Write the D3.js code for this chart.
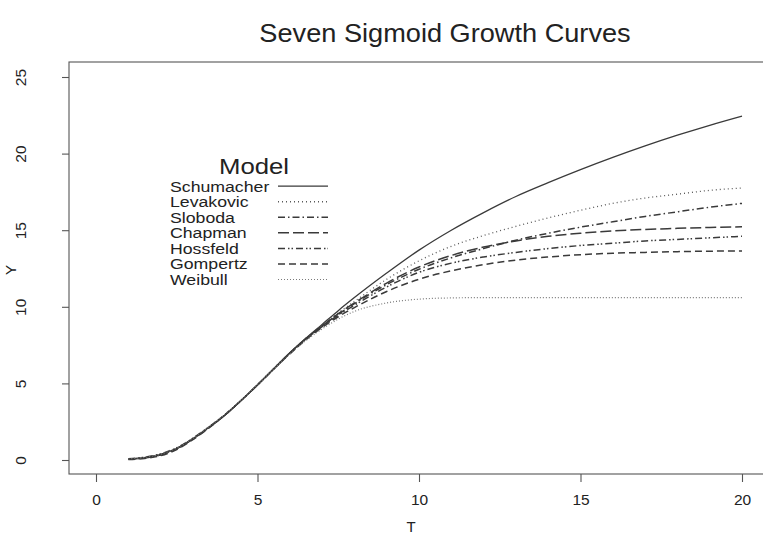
<!DOCTYPE html>
<html>
<head>
<meta charset="utf-8">
<script src="https://cdn.jsdelivr.net/npm/d3@7/dist/d3.min.js"></script>
<style>
  html, body { margin: 0; padding: 0; background: #fff; }
  svg { display: block; font-family: Arial, "Liberation Sans", Helvetica, sans-serif; }
</style>
</head>
<body>
<svg id="chart" width="763" height="540"></svg>
<script>
// Time points (T) at which each fitted growth model is evaluated
const T = [1, 1.5, 2, 2.5, 3, 3.5, 4, 4.5, 5, 5.5, 6, 6.5, 7, 7.5, 8, 9, 10, 11, 12, 13, 14, 15, 16, 17, 18, 19, 20];

// Predicted Y for each model
const schumacher = [0.06, 0.15, 0.36, 0.76, 1.4, 2.15, 2.95, 3.9, 4.9, 5.95, 7.0, 7.95, 8.85, 9.75, 10.6, 12.2, 13.7, 15.0, 16.15, 17.2, 18.1, 18.95, 19.75, 20.5, 21.2, 21.85, 22.45];
const levakovic  = [0.07, 0.16, 0.37, 0.77, 1.4, 2.15, 2.95, 3.9, 4.9, 5.95, 7.0, 7.95, 8.8, 9.6, 10.35, 11.8, 13.0, 13.95, 14.65, 15.25, 15.8, 16.3, 16.75, 17.1, 17.35, 17.6, 17.75];
const sloboda    = [0.06, 0.14, 0.34, 0.74, 1.38, 2.13, 2.95, 3.9, 4.9, 5.95, 6.98, 7.92, 8.75, 9.5, 10.2, 11.45, 12.45, 13.2, 13.8, 14.35, 14.8, 15.2, 15.55, 15.9, 16.2, 16.5, 16.75];
const chapman    = [0.05, 0.13, 0.33, 0.73, 1.37, 2.12, 2.95, 3.9, 4.9, 5.95, 6.98, 7.93, 8.75, 9.55, 10.25, 11.55, 12.6, 13.35, 13.9, 14.3, 14.6, 14.8, 14.95, 15.05, 15.12, 15.18, 15.22];
const hossfeld   = [0.08, 0.18, 0.4, 0.8, 1.42, 2.17, 2.97, 3.9, 4.9, 5.93, 6.95, 7.9, 8.7, 9.45, 10.1, 11.3, 12.25, 12.85, 13.25, 13.55, 13.8, 14.0, 14.15, 14.3, 14.4, 14.5, 14.6];
const gompertz   = [0.03, 0.1, 0.28, 0.68, 1.33, 2.1, 2.95, 3.9, 4.9, 5.93, 6.93, 7.85, 8.65, 9.35, 9.95, 11.0, 11.8, 12.35, 12.75, 13.05, 13.25, 13.4, 13.5, 13.55, 13.6, 13.63, 13.65];
const weibull    = [0.07, 0.17, 0.38, 0.78, 1.42, 2.18, 3.0, 3.93, 4.92, 5.93, 6.92, 7.8, 8.55, 9.2, 9.7, 10.25, 10.5, 10.58, 10.6, 10.6, 10.6, 10.6, 10.6, 10.6, 10.6, 10.6, 10.6];

const modelNames = ["Schumacher", "Levakovic", "Sloboda", "Chapman", "Hossfeld", "Gompertz", "Weibull"];
const modelValues = [schumacher, levakovic, sloboda, chapman, hossfeld, gompertz, weibull];

const xTicks = [0, 5, 10, 15, 20];
const yTicks = [0, 5, 10, 15, 20, 25];

// Line style per model (solid, dotted, dash-dot, long dash, dash-dot-dot, dash, fine dots)
const styles = [
  { dash: null,              width: 1.3, color: "#3a3a3a" },
  { dash: "1,3",             width: 1.3, color: "#5a5a5a" },
  { dash: "7,3,1.5,3",       width: 1.5, color: "#3a3a3a" },
  { dash: "11,4",            width: 1.5, color: "#3a3a3a" },
  { dash: "7,3,1.5,2,1.5,3", width: 1.5, color: "#3a3a3a" },
  { dash: "7,4",             width: 1.5, color: "#3a3a3a" },
  { dash: "1,2",             width: 1.2, color: "#7a7a7a" }
];

const svg = d3.select("#chart");

const frame = { left: 69, top: 62, right: 775, bottom: 474 };

const x = d3.scaleLinear().domain([0, 20]).range([96, 742]);
const y = d3.scaleLinear().domain([0, 25]).range([460, 77]);

// Title (slightly wide lettering)
svg.append("g")
  .attr("transform", "translate(445,42) scale(1.045,1)")
  .append("text")
  .attr("text-anchor", "middle")
  .attr("font-size", 26)
  .attr("fill", "#222")
  .text("Seven Sigmoid Growth Curves");

// Plot frame
svg.append("rect")
  .attr("x", frame.left).attr("y", frame.top)
  .attr("width", frame.right - frame.left).attr("height", frame.bottom - frame.top)
  .attr("fill", "none").attr("stroke", "#555").attr("stroke-width", 1.1);

// X axis
const xAxis = svg.append("g")
  .attr("transform", `translate(0,${frame.bottom})`)
  .call(d3.axisBottom(x).tickValues(xTicks).tickSize(8).tickPadding(12).tickFormat(d3.format("d")));
xAxis.select(".domain").remove();
xAxis.selectAll(".tick line").attr("stroke", "#555").attr("stroke-width", 1.1);
xAxis.selectAll(".tick text").attr("font-size", 15.5).attr("fill", "#222").attr("font-family", "Arial, 'Liberation Sans', sans-serif");

// Y axis, labels rotated as in a base-graphics plot
const yAxis = svg.append("g")
  .attr("transform", `translate(${frame.left},0)`)
  .call(d3.axisLeft(y).tickValues(yTicks).tickSize(7).tickFormat(d3.format("d")));
yAxis.select(".domain").remove();
yAxis.selectAll(".tick line").attr("stroke", "#555").attr("stroke-width", 1.1);
yAxis.selectAll(".tick text")
  .attr("transform", "rotate(-90)")
  .attr("x", 0).attr("y", -43).attr("dy", 0)
  .attr("text-anchor", "middle")
  .attr("font-size", 15.5).attr("fill", "#222")
  .attr("font-family", "Arial, 'Liberation Sans', sans-serif");

// Axis titles
svg.append("text")
  .attr("x", 411).attr("y", 532)
  .attr("text-anchor", "middle").attr("font-size", 15).attr("fill", "#222")
  .text("T");
svg.append("text")
  .attr("transform", "translate(16,270) rotate(-90)")
  .attr("text-anchor", "middle").attr("font-size", 15).attr("fill", "#222")
  .text("Y");

// Curves
const line = d3.line()
  .x((d, i) => x(T[i]))
  .y(d => y(d))
  .curve(d3.curveMonotoneX);

svg.append("g").selectAll("path")
  .data(modelValues)
  .join("path")
  .attr("d", line)
  .attr("fill", "none")
  .attr("stroke", (d, i) => styles[i].color)
  .attr("stroke-width", (d, i) => styles[i].width)
  .attr("stroke-dasharray", (d, i) => styles[i].dash);

// Legend
const legend = svg.append("g");
legend.append("g")
  .attr("transform", "translate(254,174) scale(1.12,1)")
  .append("text")
  .attr("text-anchor", "middle").attr("font-size", 23).attr("fill", "#222")
  .text("Model");

const rowY = i => 191.7 + i * 15.55;
const rows = legend.selectAll("g.row")
  .data(modelNames)
  .join("g").attr("class", "row");
rows.append("g")
  .attr("transform", (d, i) => `translate(170,${rowY(i)}) scale(1.18,1)`)
  .append("text")
  .attr("font-size", 15).attr("fill", "#222")
  .text(d => d);
rows.append("line")
  .attr("x1", 278).attr("x2", 328)
  .attr("y1", (d, i) => rowY(i) - 5.5).attr("y2", (d, i) => rowY(i) - 5.5)
  .attr("stroke", (d, i) => styles[i].color)
  .attr("stroke-width", (d, i) => styles[i].width)
  .attr("stroke-dasharray", (d, i) => styles[i].dash);
</script>
</body>
</html>
